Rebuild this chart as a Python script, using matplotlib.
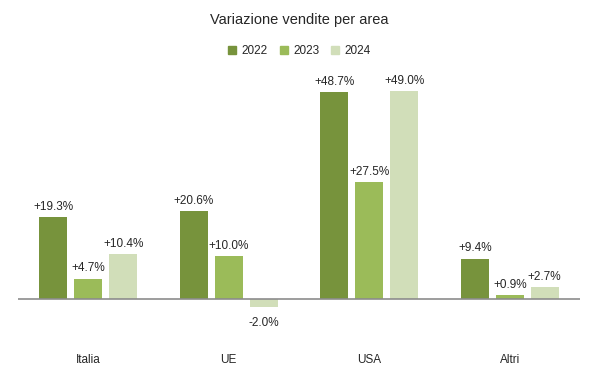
import numpy as np
import matplotlib

matplotlib.use("Agg")
import matplotlib.pyplot as plt  # noqa: E402
from matplotlib.patches import Patch  # noqa: E402

# --- data -------------------------------------------------------------------
areas = ["Italia", "UE", "USA", "Altri"]
years = ["2022", "2023", "2024"]
v2022 = [19.3, 20.6, 48.7, 9.4]
v2023 = [4.7, 10.0, 27.5, 0.9]
v2024 = [10.4, -2.0, 49.0, 2.7]

colors = ["#77933C", "#9BBB59", "#D1DEB9"]
plt.rcParams["font.family"] = ["Liberation Sans", "DejaVu Sans"]

W, H = 599, 378
fig = plt.figure(figsize=(W / 100, H / 100), dpi=100)

# axes box in pixels: x 18..580, y 80..340 (from top); baseline 0 sits at y=298.5
px_per_unit = 4.24
top_px, bot_px, base_px = 80, 340, 298.5
ax = fig.add_axes([18 / W, 1 - bot_px / H, 562 / W, (bot_px - top_px) / H])
ax.set_ylim(-(bot_px - base_px) / px_per_unit, (base_px - top_px) / px_per_unit)
ax.set_xlim(-0.5, len(areas) - 0.5)

x = np.arange(len(areas))
bw, step = 0.199, 0.249
for i, (vals, c, lab) in enumerate(zip([v2022, v2023, v2024], colors, years)):
    pos = x + (i - 1) * step
    ax.bar(pos, vals, width=bw, color=c, label=lab, zorder=2)
    for p, v in zip(pos, vals):
        txt = f"{v:+.1f}%"
        if v >= 0:
            ax.annotate(txt, (p, v), xytext=(0, 3), textcoords="offset points",
                        ha="center", va="bottom", fontsize=8.5, color="#262626")
        else:
            ax.annotate(txt, (p, v), xytext=(0, -7), textcoords="offset points",
                        ha="center", va="top", fontsize=8.5, color="#262626")

ax.axhline(0, color="#8C8C8C", lw=1.2, zorder=3)
for s in ax.spines.values():
    s.set_visible(False)
ax.set_yticks([])
ax.set_xticks(x)
ax.set_xticklabels(areas, fontsize=8.5, color="#262626")
ax.tick_params(axis="x", length=0, pad=10)

fig.text(0.5, 1 - 20 / H, "Variazione vendite per area", ha="center", va="center",
         fontsize=10.5, color="#262626")
handles = [Patch(color=c, label=y) for c, y in zip(colors, years)]
fig.legend(handles=handles, loc="center", bbox_to_anchor=(0.5, 1 - 51 / H), ncol=3,
           frameon=False, fontsize=8.5, handlelength=0.7, handleheight=0.7,
           handletextpad=0.45, columnspacing=1.0, labelcolor="#262626")

fig.savefig("out.png", dpi=100)
